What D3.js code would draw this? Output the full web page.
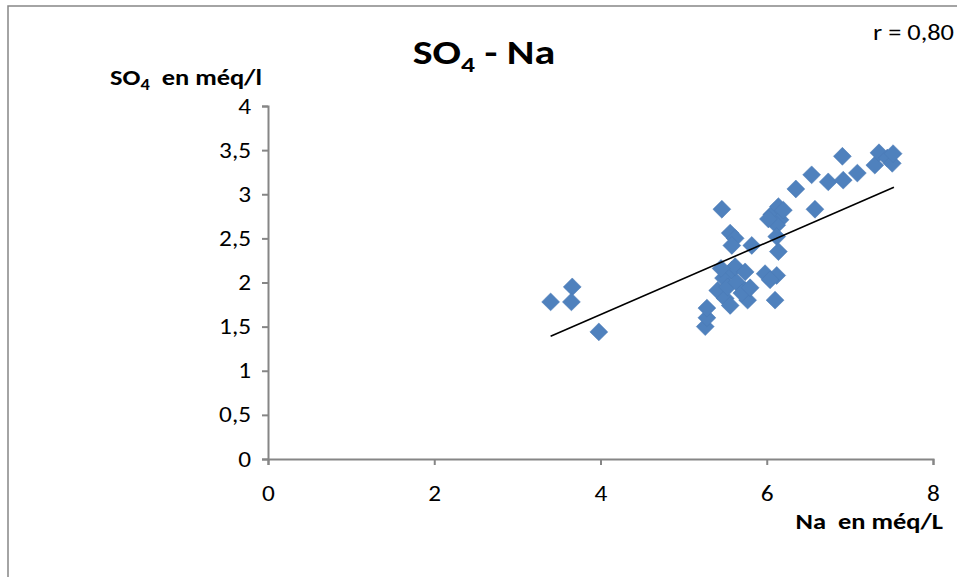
<!DOCTYPE html>
<html lang="fr">
<head>
<meta charset="UTF-8">
<title>SO4 - Na</title>
<script src="https://d3js.org/d3.v7.min.js"></script>
<style>
  body { margin: 0; background: #fff; }
  text { font-family: Carlito, "Liberation Sans", Arial, sans-serif; white-space: pre; }
</style>
</head>
<body>
<div id="chart"></div>
<script>
// measured points (Na, SO4) in méq/L
var naValues = [3.40, 3.66, 3.65, 3.98,
  5.26, 5.28, 5.28, 5.41, 5.48, 5.50, 5.56, 5.53, 5.58, 5.64, 5.62, 5.74, 5.74, 5.77, 5.70, 5.45, 5.80, 5.98, 6.12, 6.04, 6.10,
  5.46, 5.56, 5.62, 5.58, 5.82, 6.06, 6.14, 6.16, 6.12, 6.12, 6.14, 6.02, 6.20,
  6.35, 6.58, 6.54, 6.74, 6.92, 6.91, 7.09, 7.30, 7.35, 7.45, 7.51, 7.52];
var so4Values = [1.78, 1.95, 1.78, 1.44,
  1.50, 1.60, 1.71, 1.91, 2.05, 1.82, 1.74, 1.95, 2.14, 2.00, 2.18, 2.12, 1.91, 1.80, 1.88, 2.16, 1.94, 2.10, 2.08, 2.03, 1.80,
  2.83, 2.56, 2.50, 2.42, 2.42, 2.77, 2.86, 2.71, 2.65, 2.52, 2.35, 2.72, 2.82,
  3.06, 2.83, 3.22, 3.14, 3.16, 3.43, 3.24, 3.33, 3.47, 3.41, 3.35, 3.46];

// linear trend line ends
var trendX = [3.40, 7.53];
var trendY = [1.39, 3.08];

var xTicks = [0, 2, 4, 6, 8];
var yTicks = [0, 0.5, 1, 1.5, 2, 2.5, 3, 3.5, 4];

var width = 957, height = 577;
var axisColor = "#868686";
var pointColor = "#4f81bd";
var stretch = 1.15; // text in the original is drawn a bit wider

var svg = d3.select("#chart").append("svg")
  .attr("width", width)
  .attr("height", height);

// chart frame (cut off on right and bottom)
svg.append("rect")
  .attr("x", 8).attr("y", 6)
  .attr("width", 1000).attr("height", 1000)
  .attr("fill", "none")
  .attr("stroke", axisColor)
  .attr("stroke-width", 1.5);

var x = d3.scaleLinear().domain([0, 8]).range([268, 933]);
var y = d3.scaleLinear().domain([0, 4]).range([459, 106]);
var fmt = function(d) { return String(d).replace(".", ","); };

// X axis
var gx = svg.append("g")
  .attr("transform", "translate(0," + y(0) + ")")
  .call(d3.axisBottom(x).tickValues(xTicks).tickFormat(fmt).tickSizeOuter(0).tickSize(6));

// Y axis
var gy = svg.append("g")
  .attr("transform", "translate(" + x(0) + ",0)")
  .call(d3.axisLeft(y).tickValues(yTicks).tickFormat(fmt).tickSizeOuter(0).tickSize(6));

[gx, gy].forEach(function(g) {
  g.select(".domain").attr("stroke", axisColor).attr("stroke-width", 2);
  g.selectAll(".tick line").attr("stroke", axisColor).attr("stroke-width", 2);
  g.selectAll(".tick text")
    .attr("fill", "#000")
    .style("font-size", "22px")
    .style("font-family", "Carlito, 'Liberation Sans', Arial, sans-serif");
});
gx.selectAll(".tick text")
  .attr("y", 0).attr("dy", null)
  .attr("transform", "translate(0,42) scale(" + stretch + ",1)");
gy.selectAll(".tick text")
  .attr("x", 0).attr("dy", "0.32em")
  .attr("transform", "translate(-17,0) scale(" + stretch + ",1)");

// points (diamonds)
var diamond = d3.symbol().type(d3.symbolSquare).size(160);
svg.append("g")
  .selectAll("path")
  .data(d3.range(naValues.length))
  .join("path")
  .attr("d", diamond)
  .attr("transform", function(i) {
    return "translate(" + x(naValues[i]) + "," + y(so4Values[i]) + ") rotate(45)";
  })
  .attr("fill", pointColor)
  .attr("stroke", "#4a7ab5")
  .attr("stroke-width", 0.5);

// trend line
svg.append("line")
  .attr("x1", x(trendX[0])).attr("y1", y(trendY[0]))
  .attr("x2", x(trendX[1])).attr("y2", y(trendY[1]))
  .attr("stroke", "#000")
  .attr("stroke-width", 1.6);

// text helper: stretched horizontally like the source picture
function label(px, py, anchor, size, weight, sx) {
  return svg.append("text")
    .attr("transform", "translate(" + px + "," + py + ") scale(" + sx + ",1)")
    .attr("text-anchor", anchor)
    .style("font-size", size + "px")
    .style("font-weight", weight);
}

// title
var title = label(484, 64, "middle", 35, "bold", 1.2);
title.append("tspan").text("SO");
title.append("tspan").attr("dy", 8).style("font-size", "23px").text("4");
title.append("tspan").attr("dy", -8).text(" - Na");

// Y axis title
var ylab = label(110, 85, "start", 23, "bold", 1.15);
ylab.append("tspan").text("SO");
ylab.append("tspan").attr("dy", 5).style("font-size", "16px").text("4");
ylab.append("tspan").attr("dy", -5).text("  en méq/l");

// X axis title
label(943, 529, "end", 23, "bold", 1.15).text("Na  en méq/L");

// correlation coefficient
label(873, 40, "start", 22, "normal", 1.2).text("r = 0,80");
</script>
</body>
</html>
